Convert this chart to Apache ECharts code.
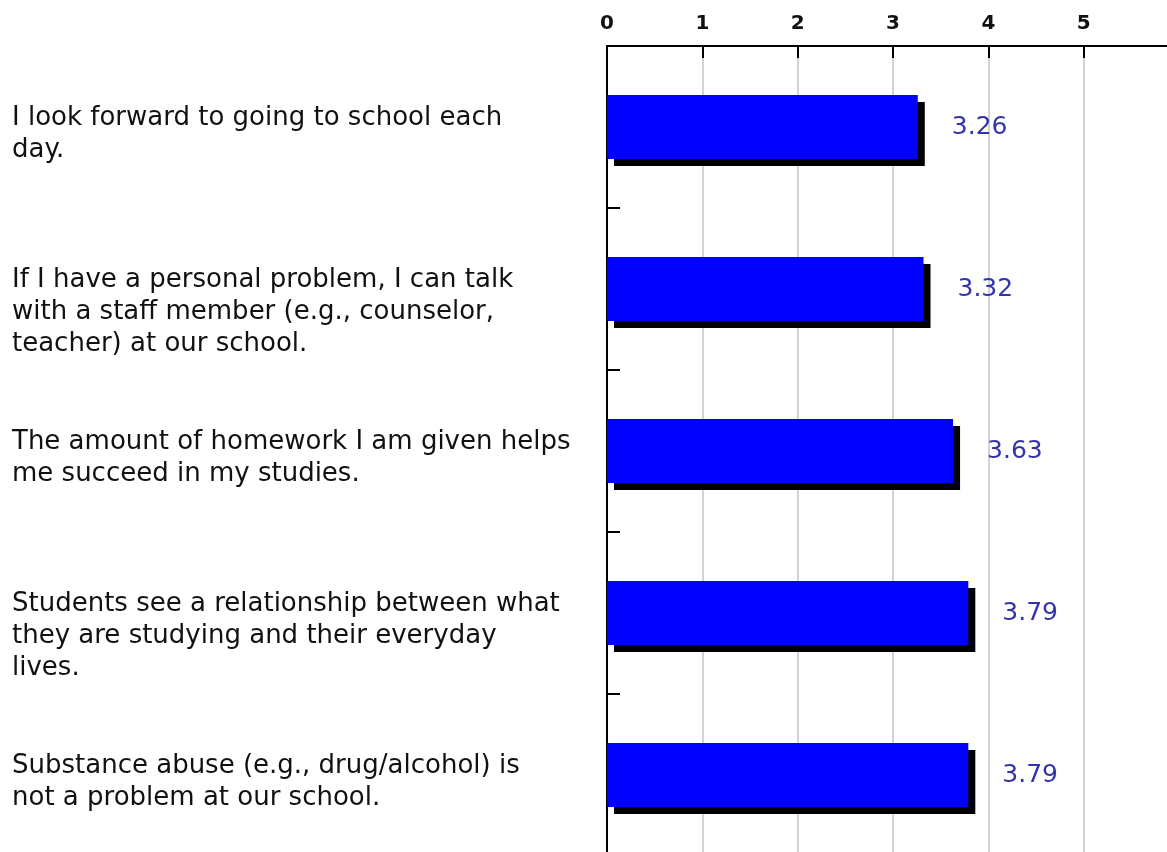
<!DOCTYPE html>
<html>
<head>
<meta charset="utf-8">
<script src="https://cdn.jsdelivr.net/npm/echarts@6/dist/echarts.min.js"></script>
<style>
html, body { margin: 0; padding: 0; background: #fff; }
#chart { width: 1167px; height: 852px; }
</style>
</head>
<body>
<div id="chart"></div>
<script>
// survey statements (line breaks as in the picture)
var categories = [
    'I look forward to going to school each\nday.',
    'If I have a personal problem, I can talk\nwith a staff member (e.g., counselor,\nteacher) at our school.',
    'The amount of homework I am given helps\nme succeed in my studies.',
    'Students see a relationship between what\nthey are studying and their everyday\nlives.',
    'Substance abuse (e.g., drug/alcohol) is\nnot a problem at our school.'
];
var scores = [3.26, 3.32, 3.63, 3.79, 3.79];
var xMin = 0, xMax = 6, xStep = 1;

var font = 'DejaVu Sans';

var option = {
    animation: false,
    backgroundColor: '#fff',
    grid: [
        {left: 607, top: 46, right: -12, bottom: -4, outerBoundsMode: 'none'},
        // shifted copy only used to place the statement text
        {left: 607, top: 21, right: -12, bottom: 21, outerBoundsMode: 'none'}
    ],
    xAxis: [{
        type: 'value',
        gridIndex: 0,
        position: 'top',
        min: xMin,
        max: xMax,
        interval: xStep,
        axisLine: {show: true, lineStyle: {color: '#000', width: 2}},
        axisTick: {show: true, inside: true, length: 12, lineStyle: {color: '#000', width: 2}},
        axisLabel: {
            color: '#111', fontFamily: font, fontSize: 20, fontWeight: 'bold',
            margin: 12, showMaxLabel: false
        },
        splitLine: {show: true, lineStyle: {color: '#c4c4c4', width: 1.5}}
    }, {
        type: 'value',
        gridIndex: 1,
        min: xMin,
        max: xMax,
        show: false
    }],
    yAxis: [{
        type: 'category',
        gridIndex: 0,
        inverse: true,
        data: categories,
        axisLine: {show: true, lineStyle: {color: '#000', width: 2}},
        axisTick: {show: true, inside: true, length: 13, lineStyle: {color: '#000', width: 2}},
        axisLabel: {show: false},
        splitLine: {show: false}
    }, {
        type: 'category',
        gridIndex: 1,
        inverse: true,
        data: categories,
        axisLine: {show: false},
        axisTick: {show: false},
        axisLabel: {
            interval: 0,
            align: 'left',
            verticalAlign: 'top',
            margin: 595,
            color: '#111',
            fontFamily: font,
            fontSize: 26,
            lineHeight: 32
        },
        splitLine: {show: false}
    }],
    series: [{
        type: 'bar',
        xAxisIndex: 0,
        yAxisIndex: 0,
        data: scores,
        barWidth: 64,
        itemStyle: {
            color: '#0000ff',
            borderWidth: 0,
            shadowColor: '#000',
            shadowBlur: 0,
            shadowOffsetX: 7,
            shadowOffsetY: 7
        },
        label: {
            show: true,
            position: 'right',
            distance: 34,
            color: '#3333aa',
            fontFamily: font,
            fontSize: 25,
            formatter: function (p) { return p.value.toFixed(2); }
        }
    }]
};

var chart = echarts.init(document.getElementById('chart'));
chart.setOption(option);
</script>
</body>
</html>
